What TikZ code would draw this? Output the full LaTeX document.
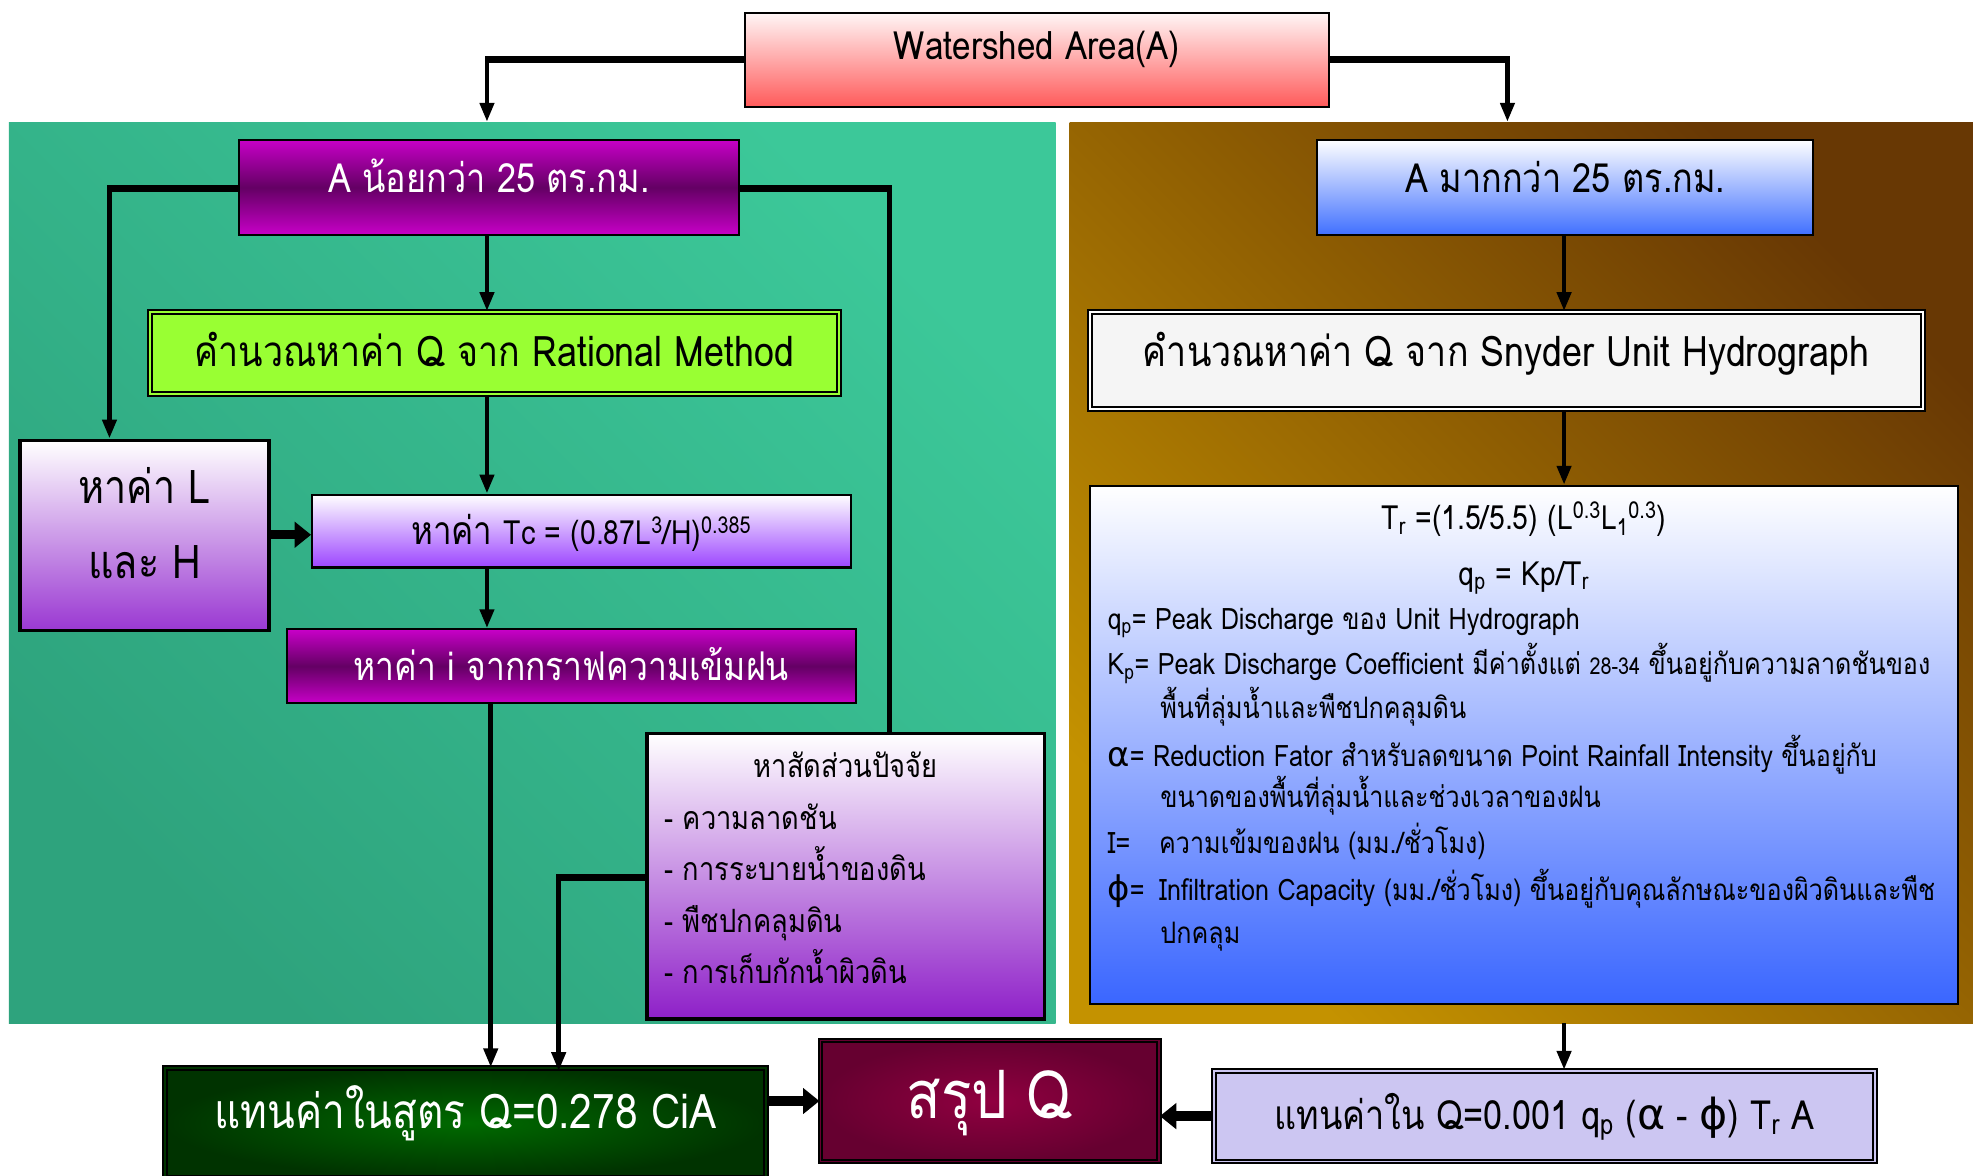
\documentclass[tikz,border=0pt]{standalone}
\usepackage{fontspec}
\setmainfont{Loma}[Script=Thai,FakeStretch=0.85]
\newfontfamily\grk{DejaVu Sans}
\usetikzlibrary{arrows.meta,calc}

\definecolor{wsbot}{HTML}{FF5A5A}
\definecolor{wstop}{HTML}{FFF6F6}
\definecolor{magA}{HTML}{C800C8}
\definecolor{magB}{HTML}{640064}
\definecolor{ratfill}{HTML}{99FF33}
\definecolor{violA}{HTML}{9A38D2}
\definecolor{violB}{HTML}{9C45FF}
\definecolor{violC}{HTML}{8E1FC8}
\definecolor{blueA}{HTML}{3F6FFF}
\definecolor{blueB}{HTML}{3A66FF}
\definecolor{snyfill}{HTML}{F5F5F5}
\definecolor{lav}{HTML}{CCC6F2}
\definecolor{grnIn}{HTML}{006A00}
\definecolor{grnOut}{HTML}{003300}
\definecolor{redIn}{HTML}{900040}
\definecolor{redOut}{HTML}{660030}
\definecolor{panGa}{HTML}{2EA37D}
\definecolor{panGb}{HTML}{3CC899}
\definecolor{panBa}{HTML}{C49200}
\definecolor{panBb}{HTML}{683804}

\newcommand\fsz[1]{\fontsize{#1}{#1}\selectfont}
% text whose baseline sits #1 above the centre of its box
\newcommand\lift[2]{\raisebox{#1pt}[0pt][0pt]{#2}}

\tikzset{
  box/.style={draw=black, line width=1.6, inner sep=0, align=center},
  dbox/.style={box, double distance=1.3},
  panel/.style={inner sep=0, draw=none},
  conn/.style={line width=3.6, -{Triangle[length=15,width=11]}},
  hline/.style={line width=5.5},
  plain/.style={line width=3.6},
  fat/.style={line width=7.5, -{Triangle[length=13,width=20]}},
  infoline/.style={anchor=base west, inner sep=0, font=\fsz{23.5}},
  factline/.style={anchor=base west, inner sep=0, font=\fsz{25.5}}
}

\begin{document}
\begin{tikzpicture}[x=1pt,y=-1pt]
\useasboundingbox (0,0) rectangle (1568,934);
\fill[white] (0,0) rectangle (1568,934);

% background panels
\node[panel, minimum width=832, minimum height=716, left color=panGa, right color=panGb, shading angle=135] (pl) at (423,455) {};
\node[panel, minimum width=718, minimum height=716, left color=panBa, right color=panBb, shading angle=135] (pr) at (1209,455) {};

% top box
\node[box, minimum width=464, minimum height=75, top color=wstop, bottom color=wsbot] (ws) at (824,47.5) {\lift{0}{\fsz{31}Watershed Area(A)}};

% left branch
\node[box, minimum width=397, minimum height=76, top color=magA, bottom color=magA, middle color=magB, text=white] (small) at (388.5,149) {\lift{-4}{\fsz{32}A น้อยกว่า 25 ตร.กม.}};
\node[dbox, minimum width=548, minimum height=65, fill=ratfill, double=ratfill] (rat) at (393,280.5) {\lift{-11}{\fsz{33.5}คำนวณหาค่า Q จาก Rational Method}};
\node[box, line width=3, minimum width=198, minimum height=151, top color=white, bottom color=violA] (lh) at (115,425.5) {\makebox[0pt]{\lift{25.5}{\fsz{37}หาค่า L}}\makebox[0pt]{\lift{-34.5}{\fsz{37}และ H}}};
\node[box, minimum width=428, minimum height=58, top color=white, bottom color=violB] (tc) at (462,422) {\lift{-11}{\fsz{31}หาค่า \fsz{26.5}Tc = (0.87L\textsuperscript{3}/H)\textsuperscript{0.385}}};
\node[box, minimum width=452, minimum height=59, top color=magA, bottom color=magA, middle color=magB, text=white] (ib) at (454,529.5) {\lift{-11.5}{\fsz{31.5}หาค่า i จากกราฟความเข้มฝน}};
\node[box, line width=3, minimum width=316, minimum height=227, top color=white, bottom color=violC] (fac) at (672,696.5) {};
\node[anchor=base, inner sep=0, font=\fsz{25.5}] (facT) at (672,618) {หาสัดส่วนปัจจัย};
\node[factline] (fac1) at (528,659) {- ความลาดชัน};
\node[factline] (fac2) at (528,700) {- การระบายน้ำของดิน};
\node[factline] (fac3) at (528,741) {- พืชปกคลุมดิน};
\node[factline] (fac4) at (528,782) {- การเก็บกักน้ำผิวดิน};

% right branch
\node[box, minimum width=394, minimum height=76, top color=white, bottom color=blueA] (big) at (1244,149) {\lift{-4}{\fsz{32}A มากกว่า 25 ตร.กม.}};
\node[dbox, minimum width=662, minimum height=77, fill=snyfill, double=white] (sny) at (1197,286.5) {\lift{-5}{\fsz{33.5}คำนวณหาค่า Q จาก Snyder Unit Hydrograph}};
\node[box, minimum width=690, minimum height=412, top color=white, bottom color=blueB] (info) at (1211,592) {};
\node[anchor=base, inner sep=0, font=\fsz{26.5}] (eq1) at (1211,421) {T\textsubscript{r} =(1.5/5.5) (L\textsuperscript{0.3}L\textsubscript{1}\textsuperscript{0.3})};
\node[anchor=base, inner sep=0, font=\fsz{26.5}] (eq2) at (1211,465) {q\textsubscript{p} = Kp/T\textsubscript{r}};
\node[infoline] (d1) at (880,500) {q\textsubscript{p}= Peak Discharge ของ Unit Hydrograph};
\node[infoline] (d2) at (880,536) {K\textsubscript{p}= Peak Discharge Coefficient มีค่าตั้งแต่ {\fsz{18.5}28-34} ขึ้นอยู่กับความลาดชันของ};
\node[infoline] (d2b) at (922,571) {พื้นที่ลุ่มน้ำและพืชปกคลุมดิน};
\node[infoline] (d3) at (880,609) {{\grk\fsz{27}α}= Reduction Fator สำหรับลดขนาด Point Rainfall Intensity ขึ้นอยู่กับ};
\node[infoline] (d3b) at (922,642) {ขนาดของพื้นที่ลุ่มน้ำและช่วงเวลาของฝน};
\node[infoline] (d4) at (880,678) {\makebox[41pt][l]{I=}ความเข้มของฝน (มม./ชั่วโมง)};
\node[infoline] (d5) at (880,716) {\makebox[41pt][l]{{\grk\fsz{27}ϕ}=}Infiltration Capacity (มม./ชั่วโมง) ขึ้นอยู่กับคุณลักษณะของผิวดินและพืช};
\node[infoline] (d5b) at (922,750) {ปกคลุม};

% bottom row
\node[dbox, minimum width=478, minimum height=87, inner color=grnIn, outer color=grnOut, double=grnOut, text=white] (gq) at (370,892.5) {\lift{-4.5}{\fsz{38}แทนค่าในสูตร Q=0.278 CiA}};
\node[dbox, minimum width=269, minimum height=96, inner color=redIn, outer color=redOut, double=redOut, text=white] (sum) at (786.5,875) {\lift{-14}{\fsz{53}สรุป Q}};
\node[dbox, minimum width=525, minimum height=72, fill=lav, double=lav] (qr) at (1227.5,887) {\lift{-11}{\fsz{32}แทนค่าใน Q=0.001 q\textsubscript{p} ({\grk\fsz{34}α} - {\grk\fsz{34}ϕ}) T\textsubscript{r} A}};

% junction points of the connectors
\coordinate (colL) at (387,0);
\coordinate (colR) at (1243,0);
\coordinate (lin) at (387,47);
\coordinate (rin) at (1198,47);
\coordinate (lturn) at (87,150);
\coordinate (rturn) at (707,150);
\coordinate (fturn) at (444,697);

% connectors
\draw[hline] (ws.west |- lin) -- ([xshift=-1.8]lin);
\draw[conn] ([yshift=-2.7]lin) -- (lin |- pl.north);
\draw[hline] (ws.east |- rin) -- ([xshift=1.8]rin);
\draw[conn] ([yshift=-2.7]rin) -- (rin |- pr.north);
\draw[conn] (small.south -| colL) -- (rat.north -| colL);
\draw[hline] (small.west |- lturn) -- ([xshift=-1.8]lturn);
\draw[conn] ([yshift=-2.7]lturn) -- (lturn |- lh.north);
\draw[hline] (small.east |- rturn) -- ([xshift=1.8]rturn);
\draw[plain] ([yshift=-2.7]rturn) -- (rturn |- fac.north);
\draw[conn] (rat.south -| colL) -- (tc.north -| colL);
\draw[fat] (lh.east |- 0,425) -- (tc.west |- 0,425);
\draw[conn] (tc.south -| colL) -- (ib.north -| colL);
\draw[conn] ([xshift=3]ib.south -| colL) -- ([xshift=3]gq.north -| colL);
\draw[hline] (fac.west |- fturn) -- ([xshift=-1.8]fturn);
\draw[conn] ([yshift=-2.7]fturn) -- ([yshift=-3]fturn |- gq.north);
\draw[conn] (big.south -| colR) -- (sny.north -| colR);
\draw[conn] (sny.south -| colR) -- (info.north -| colR);
\draw[conn] (pr.south -| colR) -- (qr.north -| colR);
\draw[fat] (gq.east |- sum.west) -- (sum.west);
\draw[fat] (qr.west) -- (sum.east |- qr.west);
\end{tikzpicture}
\end{document}
